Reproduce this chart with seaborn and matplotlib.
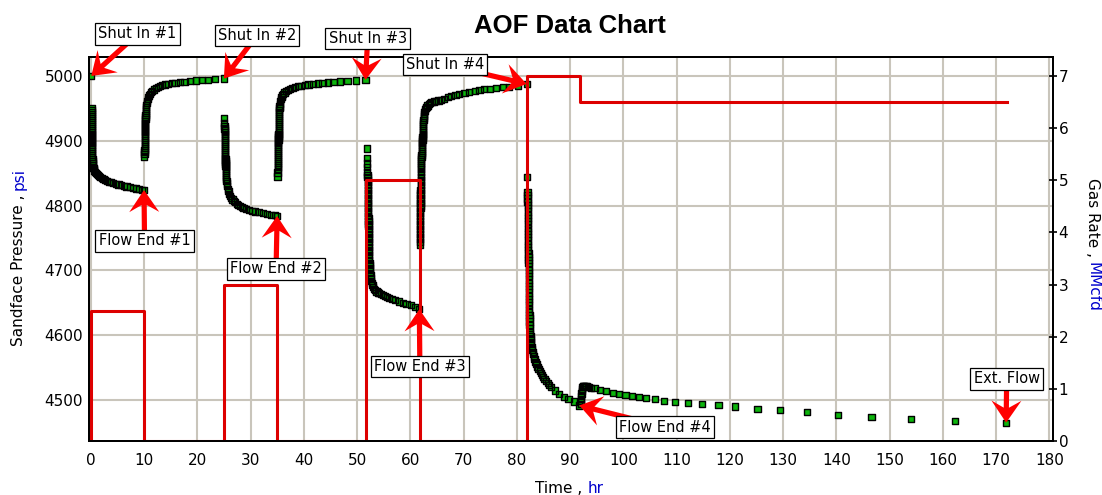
import numpy as np
import pandas as pd
import matplotlib
matplotlib.use("Agg")
import matplotlib.pyplot as plt
import seaborn as sns
from matplotlib.patches import Polygon
from matplotlib.transforms import IdentityTransform

# ---------------------------------------------------------------------------
# Sandface pressure (time in hr, pressure in psi), one list per test period
# ---------------------------------------------------------------------------
flow1 = [
    (0.10, 5000),
    (0.14, 4951), (0.15, 4947), (0.16, 4944),
    (0.17, 4941), (0.17, 4938), (0.18, 4935), (0.18, 4932), (0.18, 4929),
    (0.19, 4926), (0.19, 4923), (0.19, 4920), (0.20, 4917), (0.20, 4914),
    (0.20, 4911), (0.21, 4908), (0.21, 4905), (0.22, 4902), (0.22, 4899),
    (0.23, 4896), (0.24, 4893), (0.25, 4890), (0.26, 4887), (0.27, 4884),
    (0.28, 4881), (0.29, 4878), (0.30, 4875), (0.32, 4872), (0.34, 4869),
    (0.36, 4866), (0.39, 4863), (0.43, 4860),
    (0.50, 4858), (0.58, 4856), (0.68, 4854), (0.80, 4852), (0.95, 4850.5),
    (1.12, 4849), (1.32, 4847.5), (1.55, 4846), (1.80, 4844.5), (2.08, 4843),
    (2.38, 4841.5), (2.70, 4840), (3.05, 4838.5), (3.42, 4837), (3.80, 4836),
    (4.20, 4835), (4.70, 4833.5), (5.20, 4832.5), (5.70, 4831.5), (6.20, 4830.5),
    (6.70, 4829.5), (7.30, 4828.5), (7.90, 4827.5), (8.50, 4826.5), (9.10, 4825.5),
    (9.60, 4824.5), (10.00, 4824),
]

buildup1 = [
    (10.05, 4875), (10.08, 4880),
    (10.10, 4883), (10.11, 4886), (10.12, 4889), (10.13, 4892), (10.14, 4895),
    (10.15, 4898), (10.16, 4901), (10.17, 4904), (10.18, 4907), (10.19, 4910),
    (10.20, 4913), (10.21, 4916), (10.22, 4919), (10.23, 4922), (10.24, 4925),
    (10.25, 4928), (10.26, 4931), (10.27, 4934), (10.28, 4937), (10.30, 4940),
    (10.32, 4943), (10.34, 4946), (10.37, 4949), (10.40, 4952), (10.44, 4955),
    (10.50, 4958), (10.58, 4961), (10.68, 4964), (10.80, 4967), (10.95, 4970),
    (11.12, 4972.5), (11.32, 4975), (11.56, 4977), (11.85, 4979), (12.20, 4981),
    (12.60, 4983), (13.00, 4984.5),
    (13.40, 4986), (13.90, 4987), (14.50, 4988), (15.20, 4989), (15.90, 4989.5),
    (16.70, 4990.5), (17.60, 4991), (18.60, 4992), (19.80, 4993), (20.90, 4993.5),
    (22.00, 4994), (23.30, 4995), (25.00, 4996),
]

flow2 = [
    (25.05, 4935), (25.08, 4927), (25.10, 4923), (25.12, 4919),
    (25.14, 4916), (25.15, 4913), (25.16, 4910), (25.17, 4907), (25.18, 4904),
    (25.19, 4901), (25.20, 4898), (25.21, 4895), (25.22, 4892), (25.23, 4889),
    (25.24, 4886), (25.25, 4883), (25.26, 4880), (25.27, 4877), (25.28, 4874),
    (25.29, 4871), (25.30, 4868), (25.31, 4865), (25.32, 4862), (25.33, 4859),
    (25.34, 4856), (25.36, 4853), (25.38, 4850), (25.40, 4847), (25.42, 4844),
    (25.45, 4841), (25.48, 4838),
    (25.55, 4834), (25.63, 4830), (25.72, 4826), (25.85, 4822), (26.00, 4818),
    (26.20, 4815), (26.40, 4812), (26.60, 4809.5), (26.85, 4807), (27.10, 4805),
    (27.40, 4803), (27.70, 4801), (28.00, 4799.5), (28.35, 4798), (28.70, 4796.5),
    (29.10, 4795), (29.70, 4793.5), (30.30, 4792), (30.90, 4791), (31.60, 4790),
    (32.30, 4789), (33.10, 4787.5), (33.90, 4786), (34.60, 4785), (35.00, 4784),
]

buildup2 = [
    (35.05, 4845), (35.07, 4851), (35.09, 4856), (35.10, 4860),
    (35.11, 4863), (35.12, 4866), (35.13, 4869), (35.14, 4872), (35.15, 4875),
    (35.16, 4878), (35.17, 4881), (35.18, 4884), (35.19, 4887), (35.20, 4890),
    (35.21, 4893), (35.22, 4896), (35.23, 4899), (35.24, 4902), (35.25, 4905),
    (35.26, 4908), (35.27, 4911), (35.28, 4914), (35.29, 4917), (35.30, 4920),
    (35.31, 4923), (35.32, 4926), (35.33, 4929), (35.34, 4932), (35.35, 4935),
    (35.36, 4938), (35.37, 4941), (35.39, 4944), (35.41, 4947), (35.43, 4950),
    (35.46, 4953),
    (35.50, 4957), (35.58, 4961), (35.68, 4964.5), (35.80, 4967.5), (35.95, 4970),
    (36.15, 4972.5), (36.40, 4974.5), (36.70, 4976.5), (37.05, 4978.5), (37.45, 4980),
    (37.90, 4981.5), (38.40, 4983),
    (38.90, 4984), (39.50, 4985), (40.20, 4986), (40.90, 4987), (41.70, 4987.5),
    (42.60, 4988.5), (43.50, 4989), (44.50, 4990), (45.60, 4990.5), (46.80, 4991.5),
    (48.20, 4992), (49.80, 4993), (51.60, 4994),
]

flow3 = [
    (51.85, 4888), (51.88, 4873), (51.90, 4865), (51.92, 4859), (51.94, 4852),
    (51.96, 4847),
    (51.98, 4844), (51.99, 4840), (52.00, 4836), (52.01, 4832), (52.02, 4828),
    (52.03, 4824), (52.04, 4820), (52.05, 4816), (52.06, 4812), (52.07, 4808),
    (52.08, 4804), (52.09, 4800), (52.10, 4796), (52.11, 4792), (52.12, 4788),
    (52.13, 4784), (52.14, 4780), (52.15, 4776), (52.16, 4772), (52.17, 4768),
    (52.18, 4764), (52.19, 4760), (52.20, 4756), (52.21, 4752), (52.22, 4748),
    (52.23, 4744), (52.24, 4740), (52.25, 4736), (52.26, 4732), (52.27, 4728),
    (52.28, 4724), (52.30, 4720), (52.32, 4716), (52.34, 4712), (52.36, 4708),
    (52.39, 4704), (52.42, 4700),
    (52.47, 4696), (52.53, 4692), (52.60, 4688), (52.68, 4684), (52.78, 4680),
    (52.90, 4677), (53.05, 4674), (53.22, 4671.5), (53.42, 4669.5), (53.65, 4667.5),
    (53.90, 4666), (54.20, 4664.5), (54.50, 4663), (54.85, 4661.5), (55.20, 4660),
    (55.60, 4659),
    (56.00, 4657.5), (56.60, 4655.5), (57.20, 4654), (57.90, 4652), (58.60, 4650),
    (59.30, 4648), (60.10, 4646), (60.90, 4643.5), (61.70, 4640),
]

buildup3 = [
    (61.80, 4740), (61.82, 4744),
    (61.85, 4748), (61.85, 4752), (61.86, 4756), (61.86, 4760), (61.87, 4764),
    (61.87, 4768), (61.88, 4772), (61.88, 4776), (61.89, 4780), (61.89, 4784),
    (61.90, 4788), (61.90, 4792), (61.91, 4796), (61.91, 4800), (61.92, 4804),
    (61.92, 4808), (61.93, 4812), (61.93, 4816), (61.94, 4820), (61.94, 4824),
    (61.95, 4828), (61.95, 4832), (61.96, 4836), (61.96, 4840), (61.97, 4844),
    (61.97, 4848), (61.98, 4852), (61.98, 4856),
    (62.00, 4860), (62.02, 4863), (62.04, 4866), (62.06, 4869), (62.08, 4872),
    (62.10, 4875), (62.12, 4878), (62.14, 4881), (62.16, 4884), (62.18, 4887),
    (62.20, 4890), (62.22, 4893), (62.24, 4896), (62.26, 4899), (62.28, 4902),
    (62.30, 4905), (62.32, 4908), (62.34, 4911), (62.36, 4914), (62.38, 4917),
    (62.40, 4920), (62.42, 4923), (62.44, 4926), (62.46, 4929), (62.48, 4932),
    (62.51, 4935), (62.54, 4938), (62.57, 4941), (62.61, 4944),
    (62.70, 4946), (62.80, 4948.5), (62.92, 4950.5), (63.06, 4952.5), (63.24, 4954.5),
    (63.45, 4956.5), (63.70, 4958), (64.00, 4959.5), (64.40, 4960.5), (64.80, 4961.5),
    (65.30, 4962.2),
    (65.80, 4963), (66.40, 4965), (67.10, 4967), (67.70, 4968.7), (68.50, 4970.7),
    (69.20, 4972.2), (70.20, 4974.3), (71.10, 4975.8), (72.10, 4977.4), (73.00, 4978.4),
    (73.90, 4979.5), (74.90, 4980.4), (76.10, 4981.5), (77.40, 4982.6), (78.60, 4983.5),
    (80.20, 4985), (81.85, 4987.7),
]

flow4 = [
    (81.95, 4844),
    (82.00, 4821), (82.01, 4816), (82.02, 4811), (82.03, 4806), (82.04, 4801),
    (82.05, 4796), (82.06, 4791), (82.07, 4786), (82.08, 4781), (82.09, 4776),
    (82.10, 4771), (82.11, 4766), (82.12, 4761), (82.13, 4756), (82.14, 4751),
    (82.15, 4746), (82.16, 4741), (82.17, 4736), (82.18, 4731), (82.19, 4726),
    (82.20, 4721), (82.21, 4716), (82.22, 4711), (82.23, 4706), (82.24, 4701),
    (82.25, 4696), (82.26, 4691), (82.27, 4686), (82.28, 4681), (82.29, 4676),
    (82.30, 4671), (82.31, 4666), (82.32, 4661), (82.33, 4656), (82.34, 4651),
    (82.35, 4646), (82.36, 4641), (82.37, 4636), (82.38, 4631), (82.39, 4626),
    (82.40, 4621), (82.41, 4616), (82.42, 4611),
    (82.50, 4605.5), (82.55, 4602), (82.60, 4598), (82.62, 4594), (82.65, 4590),
    (82.72, 4586), (82.80, 4582), (82.90, 4578), (83.00, 4574.5), (83.10, 4571),
    (83.20, 4567), (83.35, 4563), (83.50, 4559), (83.70, 4555), (83.90, 4551),
    (84.10, 4548), (84.30, 4545), (84.50, 4542), (84.70, 4539), (84.95, 4535.5),
    (85.20, 4532), (85.50, 4529), (85.80, 4526), (86.10, 4523), (86.40, 4520),
    (87.20, 4514.5), (88.00, 4509), (88.80, 4505), (89.70, 4501), (90.70, 4497.5),
    (91.75, 4491.5),
]

ext_flow = [
    (92.00, 4494), (92.04, 4498), (92.08, 4502), (92.11, 4506), (92.14, 4510),
    (92.18, 4514), (92.22, 4517), (92.30, 4519.5), (92.40, 4521), (92.55, 4521.5),
    (92.70, 4521.5), (92.90, 4521.5), (93.10, 4521), (93.35, 4520.5), (93.60, 4520),
    (93.90, 4519),
    (94.60, 4518), (95.70, 4516), (96.80, 4513.5), (98.00, 4511), (99.20, 4509.5),
    (100.40, 4508), (101.60, 4506), (102.90, 4504.5), (104.30, 4503), (105.90, 4501),
    (107.70, 4499), (109.70, 4497), (112.10, 4495), (114.80, 4494), (117.90, 4492),
    (121.00, 4490), (125.20, 4486.5), (129.40, 4484), (134.50, 4481), (140.30, 4476.5),
    (146.60, 4473.5), (154.00, 4471), (162.30, 4468), (171.90, 4465),
]

# Gas rate schedule (MMcfd), drawn as a post-step line
rate_time = [0, 0, 10, 25, 35, 51.75, 61.75, 81.9, 91.8, 172]
rate_mmcfd = [0, 2.5, 0, 3.0, 0, 5.0, 0, 7.0, 6.5, 6.5]

# Axis ticks
time_ticks = list(range(0, 181, 10))
pressure_ticks = [4500, 4600, 4700, 4800, 4900, 5000]
rate_ticks = list(range(0, 8))

# ---------------------------------------------------------------------------
GREEN = "#0cb40c"
LINE_RED = "#dd0000"
ARROW_RED = "#ff0000"
GRID = "#c9c5bb"
BLUE = "#0000cc"
W, H = 1102, 495

pressure_df = pd.DataFrame(
    flow1 + buildup1 + flow2 + buildup2 + flow3 + buildup3 + flow4 + ext_flow,
    columns=["time", "pressure"],
)
rate_df = pd.DataFrame({"time": rate_time, "rate": rate_mmcfd})

plt.rcParams["font.family"] = ["DejaVu Sans"]
fig = plt.figure(figsize=(W / 100, H / 100), dpi=100)
fig.patch.set_facecolor("white")
ax = fig.add_axes([89 / W, 1 - 441 / H, 964 / W, 384 / H])
ax2 = ax.twinx()

# Square markers: green faces first, then all black outlines on top, so the
# densely sampled early-time stretches read as solid black bands.
sns.scatterplot(
    data=pressure_df, x="time", y="pressure", ax=ax, marker="s", s=20,
    color=GREEN, edgecolor="none", linewidth=0, legend=False, zorder=3,
)
sns.scatterplot(
    data=pressure_df, x="time", y="pressure", ax=ax, marker="s", s=20,
    facecolor="none", edgecolor="black", linewidth=1.0, legend=False, zorder=3.1,
)
sns.lineplot(
    data=rate_df, x="time", y="rate", ax=ax2, estimator=None, sort=False,
    drawstyle="steps-post", color=LINE_RED, linewidth=2.2, zorder=2,
)

ax.set_xlim(-0.33, 180.7)
ax.set_ylim(4436.7, 5029.3)
ax2.set_ylim(0, 7.364)
ax.set_xticks(time_ticks)
ax.set_yticks(pressure_ticks)
ax2.set_yticks(rate_ticks)
for a in (ax, ax2):
    a.set_xlabel("")
    a.set_ylabel("")
    for sp in a.spines.values():
        sp.set_color("black")
        sp.set_linewidth(1.4)

ax.grid(True, color=GRID, linewidth=1.5)
ax.set_axisbelow(True)
ax2.grid(False)
ax.set_facecolor("white")

ax.tick_params(axis="x", length=0, pad=8.5, labelsize=11)
ax.tick_params(axis="y", length=0, pad=4.3, labelsize=11)
ax2.tick_params(axis="y", direction="inout", length=6, width=1.2, pad=1,
                labelsize=11, colors="black")

# Title and axis labels (unit part in blue)
fig.text(570 / W, 1 - 33 / H, "AOF Data Chart", ha="center", va="baseline",
         fontsize=18.5, fontweight="bold", family=["Liberation Sans", "DejaVu Sans"])

renderer = fig.canvas.get_renderer()
lbl = fig.text(19 / W, 1 - 346 / H, "Sandface Pressure ,", rotation=90,
               ha="center", va="bottom", fontsize=11)
bb = lbl.get_window_extent(renderer)
fig.text(19 / W, (bb.y1 + 5) / H, "psi", rotation=90, ha="center",
         va="bottom", fontsize=11, color=BLUE)

lbl = fig.text(1093 / W, 1 - 178 / H, "Gas Rate ,", rotation=-90,
               ha="center", va="top", fontsize=11)
bb = lbl.get_window_extent(renderer)
fig.text(1093 / W, (bb.y0 - 5) / H, "MMcfd", rotation=-90, ha="center",
         va="top", fontsize=11, color=BLUE)

lbl = fig.text(535 / W, 1 - 493 / H, "Time ,", ha="left", va="baseline",
               fontsize=11)
bb = lbl.get_window_extent(renderer)
fig.text((bb.x1 + 5) / W, 1 - 493 / H, "hr", ha="left", va="baseline",
         fontsize=11, color=BLUE)

# Event callouts: label, pressure point it marks, label centre (hr, psi)
callouts = [
    ("Shut In #1", flow1[0], (8.8, 5064.8)),
    ("Shut In #2", buildup1[-1], (31.2, 5062.5)),
    ("Shut In #3", buildup2[-1], (52.0, 5057.9)),
    ("Shut In #4", buildup3[-1], (66.5, 5017.4)),
    ("Flow End #1", flow1[-1], (10.1, 4745.4)),
    ("Flow End #2", flow2[-1], (34.8, 4702.2)),
    ("Flow End #3", flow3[-1], (61.8, 4551.4)),
    ("Flow End #4", flow4[-1], (107.8, 4458.3)),
    ("Ext. Flow", ext_flow[-1], (172.0, 4532.4)),
]


def barbed_arrow(tail, tip, head_len=22.0, barb=15.0, notch=0.68, shaft=2.6):
    tail = np.asarray(tail, float)
    tip = np.asarray(tip, float)
    u = tip - tail
    u /= np.hypot(*u)
    n = np.array([-u[1], u[0]])
    base = tip - u * head_len
    join = tip - u * head_len * notch
    return [tail + n * shaft, join + n * shaft, base + n * barb, tip,
            base - n * barb, join - n * shaft, tail - n * shaft]


for text, point, centre in callouts:
    tip_px = ax.transData.transform(point)
    tail_px = ax.transData.transform(centre)
    poly = Polygon(barbed_arrow(tail_px, tip_px), closed=True,
                   transform=IdentityTransform(), facecolor=ARROW_RED,
                   edgecolor="none", zorder=5, clip_on=False)
    ax2.add_artist(poly)
    ax2.text(centre[0], centre[1], text, transform=ax.transData,
             ha="center", va="center", fontsize=10.5, zorder=6, clip_on=False,
             bbox=dict(boxstyle="square,pad=0.22", fc="white", ec="black", lw=0.9))

fig.savefig("out.png", dpi=100, facecolor="white")
